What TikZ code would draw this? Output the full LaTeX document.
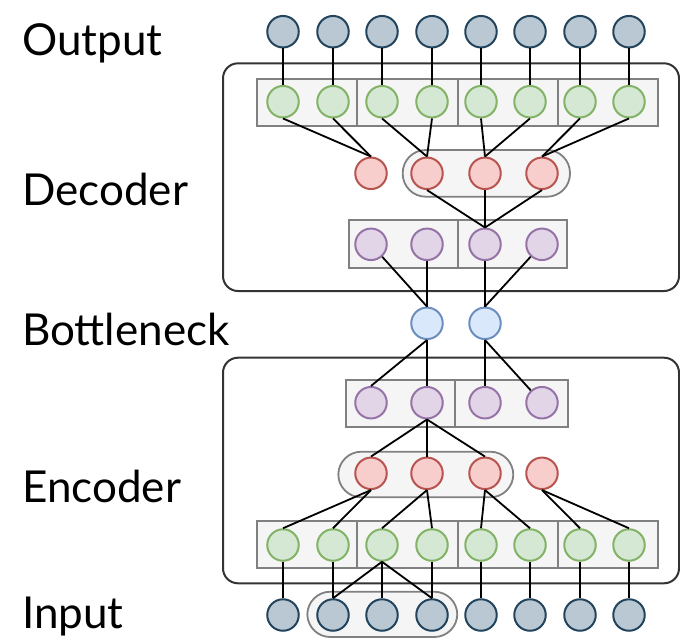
\documentclass[tikz,border=0pt]{standalone}
\usepackage{fontspec}
\setmainfont{Lato}
\definecolor{ioFill}{HTML}{BAC8D3}
\definecolor{ioLine}{HTML}{23445D}
\definecolor{gFill}{HTML}{D5E8D4}
\definecolor{gLine}{HTML}{82B366}
\definecolor{rFill}{HTML}{F8CECC}
\definecolor{rLine}{HTML}{B85450}
\definecolor{pFill}{HTML}{E1D5E7}
\definecolor{pLine}{HTML}{9673A6}
\definecolor{bFill}{HTML}{DAE8FC}
\definecolor{bLine}{HTML}{6C8EBF}
\definecolor{boxFill}{HTML}{F5F5F5}
\definecolor{boxLine}{HTML}{808080}
\definecolor{stageLine}{HTML}{333333}
\begin{document}
\begin{tikzpicture}[x=1pt,y=-1pt,
  unit/.style={circle, minimum size=31.5pt, inner sep=0pt, line width=2pt},
  io/.style={unit, fill=ioFill, draw=ioLine},
  gu/.style={unit, fill=gFill, draw=gLine},
  ru/.style={unit, fill=rFill, draw=rLine},
  pu/.style={unit, fill=pFill, draw=pLine},
  bu/.style={unit, fill=bFill, draw=bLine},
  groupbox/.style={fill=boxFill, draw=boxLine, line width=1.8pt},
  pill/.style={groupbox, rounded corners=23pt},
  stage/.style={draw=stageLine, line width=2pt, rounded corners=15pt},
  link/.style={line width=1.8pt, black},
  lbl/.style={anchor=base west, inner sep=0pt, font=\fontsize{44}{44}\selectfont}]
\useasboundingbox (0,0) rectangle (680,638);

% section labels
\node[lbl] (tOut) at (22,55) {Output};
\node[lbl] (tDec) at (22,205) {Decoder};
\node[lbl] (tBot) at (22,345) {Bottleneck};
\node[lbl] (tEnc) at (22,502) {Encoder};
\node[lbl] (tIn)  at (22,628) {Input};

% decoder and encoder frames
\draw[stage] (223,63.3) rectangle (679,291);
\draw[stage] (223,357.7) rectangle (679,583.3);

% grouping boxes
\foreach \a/\b in {256.7/357.3, 357.3/457.7, 457.7/557.7, 557.7/657.7}{
  \draw[groupbox] (\a,79) rectangle (\b,126);
  \draw[groupbox] (\a,521) rectangle (\b,567.7);
}
\draw[groupbox] (349,220) rectangle (457.7,267.7);
\draw[groupbox] (457.7,220) rectangle (566.7,267.7);
\draw[groupbox] (346,380) rectangle (455,426.7);
\draw[groupbox] (455,380) rectangle (568.3,426.7);
\draw[pill] (402.7,150) rectangle (570,196.7);
\draw[pill] (338.3,451.7) rectangle (513.3,497.3);
\draw[pill] (307.3,591.7) rectangle (457.3,637);

% units
\foreach \x [count=\i] in {283,333,382,432,481,530,580,629}{
  \node[io] (out\i) at (\x,31.7) {};
  \node[gu] (dg\i) at (\x,101.7) {};
  \node[gu] (eg\i) at (\x,545) {};
  \node[io] (in\i) at (\x,615) {};
}
\foreach \x [count=\i] in {371,427,485,542}{
  \node[ru] (dr\i) at (\x,173.3) {};
  \node[pu] (dp\i) at (\x,244.3) {};
  \node[pu] (ep\i) at (\x,402.7) {};
  \node[ru] (er\i) at (\x,473.3) {};
}
\node[bu] (b1) at (427,323.3) {};
\node[bu] (b2) at (485,323.3) {};

% decoder links
\foreach \i in {1,...,8}{
  \draw[link] (out\i.south) -- (dg\i.north);
  \draw[link] (eg\i.south) -- (in\i.north);
}
\draw[link] (dg1.south) -- (dr1.north);
\draw[link] (dg2.south) -- (dr1.north);
\draw[link] (dg3.south) -- (dr2.north);
\draw[link] (dg4.south) -- (dr2.north);
\draw[link] (dg5.south) -- (dr3.north);
\draw[link] (dg6.south) -- (dr3.north);
\draw[link] (dg7.south) -- (dr4.north);
\draw[link] (dg8.south) -- (dr4.north);
\draw[link] (dr2.south) -- (dp3.north);
\draw[link] (dr3.south) -- (dp3.north);
\draw[link] (dr4.south) -- (dp3.north);
\draw[link] (dp1) -- (b1.north);
\draw[link] (dp2.south) -- (b1.north);
\draw[link] (dp3.south) -- (b2.north);
\draw[link] (dp4) -- (b2.north);

% encoder links
\draw[link] (b1.south) -- (ep1.north);
\draw[link] (b1.south) -- (ep2.north);
\draw[link] (b2.south) -- (ep3.north);
\draw[link] (b2.south) -- (ep4);
\draw[link] (ep2.south) -- (er1.north);
\draw[link] (ep2.south) -- (er2.north);
\draw[link] (ep2.south) -- (er3.north);
\draw[link] (er1.south) -- (eg1.north);
\draw[link] (er1.south) -- (eg2.north);
\draw[link] (er2.south) -- (eg3.north);
\draw[link] (er2.south) -- (eg4.north);
\draw[link] (er3.south) -- (eg5.north);
\draw[link] (er3.south) -- (eg6.north);
\draw[link] (er4.south) -- (eg7.north);
\draw[link] (er4.south) -- (eg8.north);
\draw[link] (eg3.south) -- (in2.north);
\draw[link] (eg3.south) -- (in4.north);
\end{tikzpicture}
\end{document}
